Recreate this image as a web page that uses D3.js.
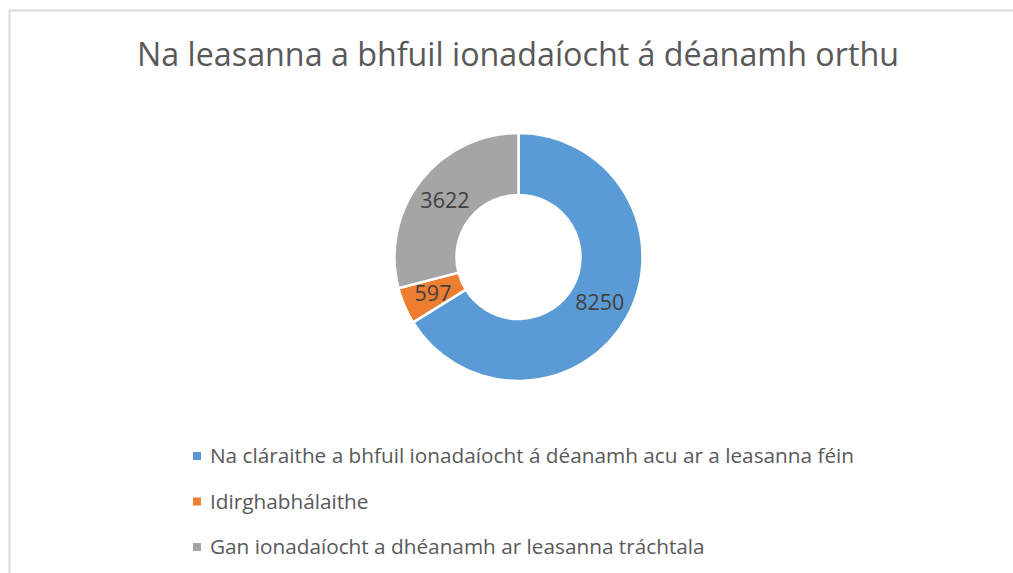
<!DOCTYPE html>
<html>
<head>
<meta charset="utf-8">
<script src="https://cdn.jsdelivr.net/npm/d3@7"></script>
<style>
  body { margin: 0; background: #fff; }
  svg { display: block; }
</style>
</head>
<body>
<div id="chart"></div>
<script>
// data
const categories = [
    "Na cláraithe a bhfuil ionadaíocht á déanamh acu ar a leasanna féin",
    "Idirghabhálaithe",
    "Gan ionadaíocht a dhéanamh ar leasanna tráchtala"
];
const values = [8250, 597, 3622];
const colors = ["#5B9BD5", "#ED7D31", "#A5A5A5"];
const title = "Na leasanna a bhfuil ionadaíocht á déanamh orthu";

const width = 1013;
const height = 573;
const fontFamily = "'Open Sans', 'Noto Sans', sans-serif";

const svg = d3.select("#chart").append("svg")
    .attr("width", width)
    .attr("height", height);

// chart frame (only top and left edges visible)
svg.append("path")
    .attr("d", "M9.5,573 L9.5,10.5 L1013,10.5")
    .attr("fill", "none")
    .attr("stroke", "#d9d9d9")
    .attr("stroke-width", 2);

// shrink a text element until it fits the width seen in the picture
function fitText(sel, targetWidth, startSize) {
    let size = startSize;
    sel.style("font-size", size + "px");
    while (sel.node().getComputedTextLength() > targetWidth && size > 8) {
        size -= 0.25;
        sel.style("font-size", size + "px");
    }
}

const titleText = svg.append("text")
    .attr("x", 518)
    .attr("y", 66)
    .attr("text-anchor", "middle")
    .style("font-family", fontFamily)
    .style("fill", "#595959")
    .text(title);
fitText(titleText, 763, 40);

// donut
const cx = 518.5, cy = 257;
const outerR = 124, innerR = 62;

const pie = d3.pie().sort(null).value(d => d);
const arc = d3.arc().innerRadius(innerR).outerRadius(outerR);
const labelArc = d3.arc().innerRadius((innerR + outerR) / 2).outerRadius((innerR + outerR) / 2);

const g = svg.append("g").attr("transform", `translate(${cx},${cy})`);
const arcs = pie(values);

g.selectAll("path")
    .data(arcs)
    .enter().append("path")
    .attr("d", arc)
    .attr("fill", (d, i) => colors[i])
    .attr("stroke", "#fff")
    .attr("stroke-width", 2.5);

g.selectAll("text")
    .data(arcs)
    .enter().append("text")
    .attr("transform", d => `translate(${labelArc.centroid(d)})`)
    .attr("text-anchor", "middle")
    .attr("dy", "0.35em")
    .style("font-family", fontFamily)
    .style("font-size", "21.5px")
    .style("fill", "#404040")
    .text(d => d.data);

// legend
const legendY = d3.scalePoint().domain(d3.range(categories.length)).range([456, 547]);
const legend = svg.append("g");
const items = legend.selectAll("g")
    .data(categories)
    .enter().append("g")
    .attr("transform", (d, i) => `translate(193,${legendY(i)})`);

items.append("rect")
    .attr("x", 0)
    .attr("y", -4)
    .attr("width", 8)
    .attr("height", 8)
    .attr("fill", (d, i) => colors[i]);

const legendTexts = items.append("text")
    .attr("x", 17)
    .attr("dy", "0.35em")
    .style("font-family", fontFamily)
    .style("fill", "#595959")
    .text(d => d);

// size the longest legend entry to its width in the picture, use same size for all
const first = d3.select(legendTexts.nodes()[0]);
fitText(first, 647, 24);
legendTexts.style("font-size", first.style("font-size"));
</script>
</body>
</html>
